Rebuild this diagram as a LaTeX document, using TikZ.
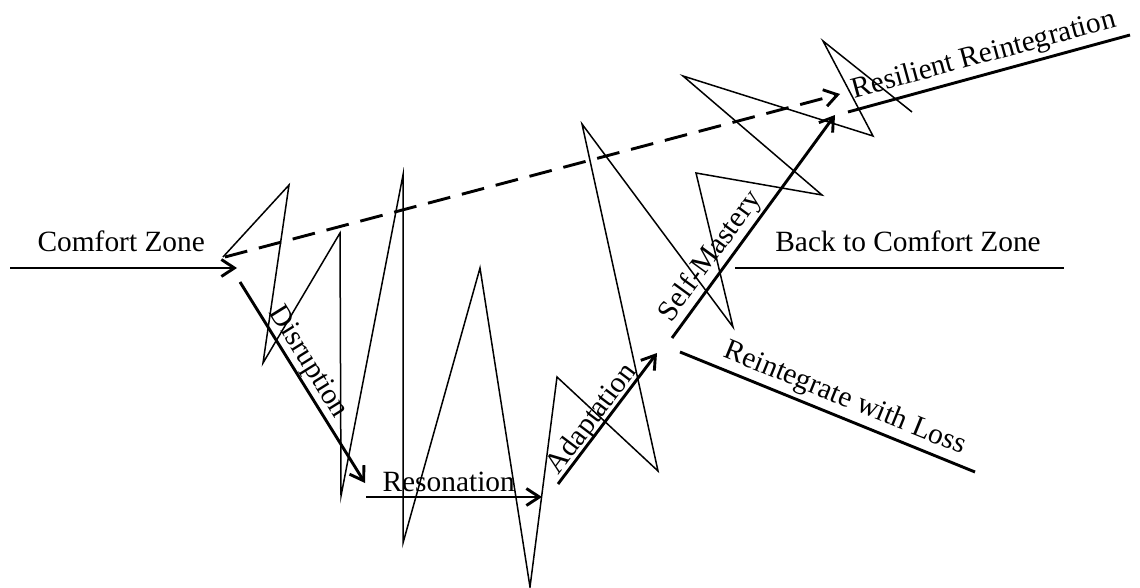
\documentclass[tikz,border=0pt]{standalone}
\usepackage{fontspec}
\setmainfont{Liberation Serif}
\usetikzlibrary{arrows.meta}
\begin{document}
\begin{tikzpicture}[x=1pt,y=-1pt,
  thickline/.style={line width=2.9pt},
  arrowline/.style={thickline, -{Straight Barb[length=13pt,width=17pt]}},
  dashline/.style={arrowline, dash pattern=on 23pt off 12pt},
  zig/.style={line width=1.5pt, line join=miter, miter limit=20},
  lbl/.style={font=\fontsize{29.4}{32}\selectfont, inner sep=0pt, text depth=0pt, sloped}
]
\useasboundingbox (0,0) rectangle (1140,588);
% end points
\coordinate (cz0) at (10,268);   \coordinate (cz1) at (237,268);
\coordinate (ds0) at (225,257);  \coordinate (ds1) at (840,94);
\coordinate (d0) at (240,282);   \coordinate (d1) at (365,483);
\coordinate (r0) at (366,497);   \coordinate (r1) at (542,497);
\coordinate (a0) at (558,484);   \coordinate (a1) at (657,353);
\coordinate (s0) at (672,338);   \coordinate (s1) at (835,115);
\coordinate (rr0) at (848,112);  \coordinate (rr1) at (1130,35);
\coordinate (b0) at (735,268);   \coordinate (b1) at (1064,268);
\coordinate (l0) at (680,352);   \coordinate (l1) at (975,472);
% zigzag scribble
\draw[zig] (223,257) -- (289,185) -- (263,363) -- (340,233) -- (341,496)
  -- (403,175) -- (403,543) -- (480,268) -- (530,587) -- (557,377)
  -- (658,471) -- (582,124) -- (733,327) -- (696,173) -- (822,195)
  -- (683,76) -- (873,136) -- (823,41) -- (912,112);
% arrows and lines
\draw[arrowline] (cz0) -- node[lbl, above=15pt, pos=0.49] (tcz) {Comfort Zone} (cz1);
\draw[dashline] (ds0) -- (ds1);
\draw[arrowline] (d0) -- node[lbl, above=7pt, pos=0.44] (td) {Disruption} (d1);
\draw[arrowline] (r0) -- node[lbl, above=4pt, pos=0.47] (tr) {Resonation} (r1);
\draw[arrowline] (a0) -- node[lbl, above=3pt, pos=0.44] (ta) {Adaptation} (a1);
\draw[arrowline] (s0) -- node[lbl, above=8pt, pos=0.32] (ts) {Self-Mastery} (s1);
\draw[thickline] (rr0) -- node[lbl, above=10pt, pos=0.5] (trr) {Resilient Reintegration} (rr1);
\draw[thickline] (b0) -- node[lbl, above=15pt, pos=0.526] (tb) {Back to Comfort Zone} (b1);
\draw[thickline] (l0) -- node[lbl, above=10pt, pos=0.535] (tl) {Reintegrate with Loss} (l1);
\end{tikzpicture}
\end{document}
